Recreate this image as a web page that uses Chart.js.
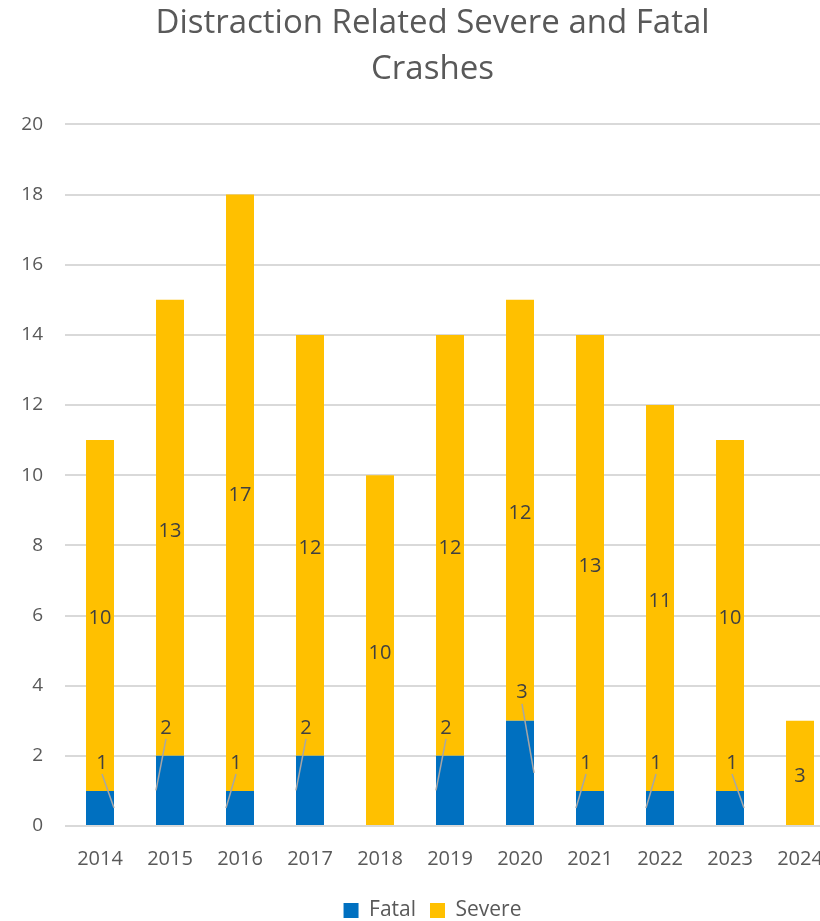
<!DOCTYPE html>
<html>
<head>
<meta charset="utf-8">
<script src="https://cdn.jsdelivr.net/npm/chart.js@4.4.0/dist/chart.umd.min.js"></script>
<style>
  html, body { margin: 0; padding: 0; background: #fff; overflow: hidden; }
  #wrap { width: 820px; height: 921px; overflow: hidden; }
</style>
</head>
<body>
<div id="wrap"><canvas id="barDistr" width="865" height="931"></canvas></div>
<script>
// dados do grafico
const anos = ['2014', '2015', '2016', '2017', '2018', '2019', '2020', '2021', '2022', '2023', '2024'];
const fatal = [1, 2, 1, 2, 0, 2, 3, 1, 1, 1, 0];
const severe = [10, 13, 17, 12, 10, 12, 12, 13, 11, 10, 3];
const yTicks = [0, 2, 4, 6, 8, 10, 12, 14, 16, 18, 20];

const fonte = "'Open Sans', 'Noto Sans', sans-serif";

// rotulos com linha de chamada (estilo excel)
const rotulosPlugin = {
    id: 'rotulos',
    afterDatasetsDraw(chart, args, opts) {
        const ctx = chart.ctx;
        ctx.save();
        ctx.font = '20px ' + fonte;
        ctx.fillStyle = '#404040';
        ctx.textAlign = 'center';
        ctx.textBaseline = 'middle';
        // severe: centro do segmento
        chart.getDatasetMeta(1).data.forEach((bar, i) => {
            const v = severe[i];
            if (!v) return;
            ctx.fillText(String(v), bar.x, (bar.y + bar.base) / 2 + 3);
        });
        // fatal: acima do segmento com linha
        chart.getDatasetMeta(0).data.forEach((bar, i) => {
            const v = fatal[i];
            if (!v) return;
            const lado = opts.lados[i];
            const lx = bar.x + (lado === 'r' ? 2 : -4);
            const ly = bar.y - 28;
            const ex = lado === 'r' ? bar.x + bar.width / 2 : bar.x - bar.width / 2;
            const ey = (bar.y + bar.base) / 2;
            ctx.strokeStyle = '#a6a6a6';
            ctx.lineWidth = 1.5;
            ctx.beginPath();
            ctx.moveTo(lx, ly + 11);
            ctx.lineTo(ex, ey);
            ctx.stroke();
            ctx.fillText(String(v), lx, ly);
        });
        ctx.restore();
    }
};

const dadosDistr = {
    labels: anos,
    datasets: [{
        label: 'Fatal',
        data: fatal,
        backgroundColor: '#0070c0',
        borderWidth: 0,
        barPercentage: 0.4,
        categoryPercentage: 1
    }, {
        label: 'Severe',
        data: severe,
        backgroundColor: '#ffc000',
        borderWidth: 0,
        barPercentage: 0.4,
        categoryPercentage: 1
    }]
};

const configDistr = {
    type: 'bar',
    data: dadosDistr,
    plugins: [rotulosPlugin],
    options: {
        responsive: false,
        animation: false,
        layout: {
            padding: 0
        },
        scales: {
            x: {
                stacked: true,
                grid: { display: false, drawTicks: false },
                border: { display: false },
                ticks: {
                    color: '#595959',
                    padding: 21,
                    font: { size: 20, family: fonte }
                },
                afterFit(scale) { scale.height = 60; }
            },
            y: {
                stacked: true,
                min: 0,
                max: 20,
                afterBuildTicks(scale) {
                    scale.ticks = yTicks.map(v => ({ value: v }));
                },
                grid: { color: '#d9d9d9', lineWidth: 2, drawTicks: false },
                border: { display: false },
                ticks: {
                    color: '#595959',
                    padding: 22,
                    font: { size: 19, family: fonte }
                },
                afterFit(scale) { scale.width = 65; }
            },
            // espaco vazio a direita
            yDir: {
                position: 'right',
                min: 0,
                max: 20,
                grid: { display: false, drawTicks: false },
                border: { display: false },
                ticks: { display: false },
                afterFit(scale) { scale.width = 30; }
            }
        },
        plugins: {
            title: {
                display: true,
                text: ['Distraction Related Severe and Fatal', 'Crashes'],
                color: '#595959',
                padding: { top: 0, bottom: 32 },
                font: { size: 33, weight: 'normal', family: fonte, lineHeight: 1.4 }
            },
            legend: {
                position: 'bottom',
                labels: {
                    color: '#595959',
                    boxWidth: 15,
                    boxHeight: 15,
                    padding: 14,
                    font: { size: 21, family: fonte }
                }
            },
            tooltip: { enabled: false },
            rotulos: {
                lados: ['r', 'l', 'l', 'l', 'l', 'l', 'r', 'l', 'l', 'r', 'l']
            }
        }
    }
};

new Chart(document.getElementById('barDistr').getContext('2d'), configDistr);
</script>
</body>
</html>
